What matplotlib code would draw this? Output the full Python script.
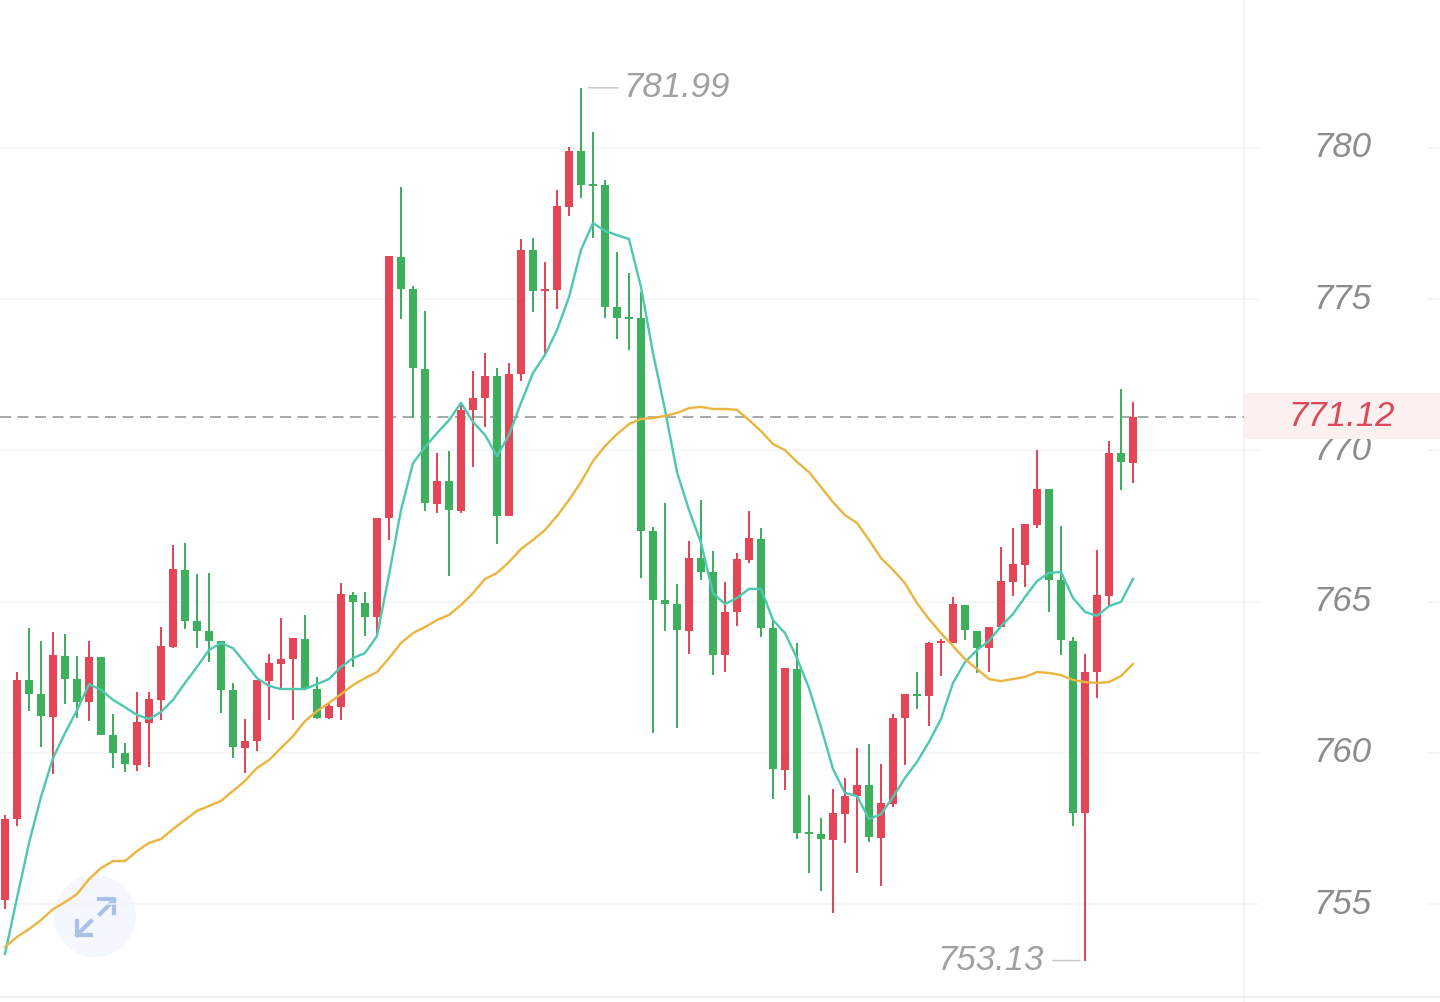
"""
K line chart with two moving averages, prices read off the screenshot
"""
import matplotlib
matplotlib.use('Agg')
import matplotlib.pyplot as plt
from matplotlib.patches import Circle, Rectangle

opens = [755.13, 757.81, 762.41, 761.94, 761.18, 763.20, 762.44, 761.68, 763.17, 760.59,
         760.00, 759.60, 760.99, 761.75, 763.50, 766.05, 764.36, 764.03, 763.70, 762.08,
         760.16, 760.39, 762.37, 762.94, 763.10, 763.76, 762.11, 761.15, 761.51, 765.22,
         764.95, 764.49, 767.76, 776.39, 775.34, 772.69, 768.23, 768.99, 768.00, 771.34,
         771.73, 772.46, 767.83, 772.53, 776.63, 775.27, 775.30, 778.05, 779.90, 778.78,
         778.78, 774.74, 774.38, 774.38, 767.33, 765.05, 764.92, 764.03, 766.44, 765.98,
         763.23, 764.66, 766.38, 767.07, 764.13, 759.43, 762.77, 757.35, 757.31, 757.12,
         757.97, 758.57, 758.93, 757.18, 758.30, 761.15, 761.91, 761.88, 763.63, 763.63,
         764.89, 764.03, 763.46, 764.16, 765.65, 766.21, 767.53, 768.72, 765.71, 763.70,
         758.01, 762.67, 765.18, 769.91, 769.58]
closes = [757.81, 762.41, 761.94, 761.22, 763.23, 762.44, 761.68, 763.17, 760.59, 760.00,
          759.63, 761.02, 761.78, 763.53, 766.08, 764.36, 764.03, 763.70, 762.08, 760.19,
          760.39, 762.41, 762.97, 763.10, 763.80, 762.14, 761.15, 761.55, 765.25, 764.99,
          764.49, 767.76, 776.43, 775.34, 772.72, 768.26, 768.99, 768.03, 771.34, 771.73,
          772.46, 767.83, 772.53, 776.63, 775.27, 775.30, 778.08, 779.90, 778.78, 778.74,
          774.74, 774.38, 774.34, 767.33, 765.05, 764.92, 764.06, 766.44, 765.98, 763.23,
          764.66, 766.41, 767.10, 764.13, 759.46, 762.80, 757.35, 757.31, 757.15, 758.01,
          758.57, 758.93, 757.21, 758.34, 761.15, 761.94, 761.88, 763.63, 763.66, 764.92,
          764.06, 763.46, 764.16, 765.68, 766.24, 767.56, 768.72, 765.71, 763.73, 758.01,
          762.67, 765.22, 769.91, 769.62, 771.12]
highs = [757.94, 762.67, 764.13, 763.70, 764.00, 763.93, 763.20, 763.70, 763.17, 761.28,
         760.32, 762.01, 762.01, 764.16, 766.87, 766.94, 765.91, 765.94, 763.70, 762.31,
         761.12, 762.41, 763.27, 764.46, 763.80, 764.56, 762.51, 761.61, 765.61, 765.32,
         765.32, 767.76, 776.43, 778.71, 775.44, 774.61, 769.91, 769.98, 771.57, 772.63,
         773.22, 772.72, 772.89, 776.99, 777.02, 776.23, 778.61, 780.03, 781.99, 780.53,
         778.94, 776.56, 775.87, 775.24, 767.47, 768.26, 765.58, 767.00, 768.36, 766.67,
         765.65, 766.61, 768.00, 767.43, 764.39, 762.80, 763.63, 758.60, 757.84, 758.80,
         759.17, 760.16, 760.29, 759.63, 761.28, 761.94, 762.67, 763.66, 763.76, 765.15,
         764.89, 764.03, 764.16, 766.80, 767.43, 767.56, 770.01, 768.72, 767.50, 763.83,
         763.27, 766.71, 770.31, 772.03, 771.60]
lows = [754.83, 757.58, 761.38, 760.19, 759.30, 761.61, 761.15, 761.05, 760.59, 759.49,
        759.36, 759.40, 759.53, 761.08, 763.46, 764.09, 763.46, 763.00, 761.32, 759.83,
        759.33, 760.06, 761.08, 762.14, 761.08, 762.14, 761.12, 761.12, 761.08, 762.84,
        763.86, 763.89, 767.04, 774.34, 771.07, 767.99, 767.93, 765.85, 767.93, 769.45,
        770.77, 766.91, 767.83, 772.29, 774.58, 773.16, 774.67, 777.75, 778.35, 777.02,
        774.38, 773.68, 773.32, 765.78, 760.65, 764.03, 760.82, 763.27, 765.71, 762.57,
        762.67, 764.19, 766.28, 763.83, 758.47, 758.77, 757.15, 756.02, 755.43, 754.70,
        757.02, 756.02, 757.05, 755.59, 758.21, 759.60, 761.45, 760.88, 762.54, 763.63,
        763.73, 762.64, 762.67, 764.16, 765.18, 765.48, 767.43, 764.66, 763.23, 757.58,
        753.13, 761.81, 764.82, 768.68, 768.92]
ma_short = [753.35, 755.20, 757.02, 758.54, 759.83, 760.65, 761.41, 762.27, 762.08, 761.75,
            761.51, 761.25, 761.12, 761.35, 761.75, 762.31, 762.84, 763.40, 763.63, 763.46,
            762.97, 762.47, 762.21, 762.11, 762.11, 762.11, 762.27, 762.44, 762.84, 763.13,
            763.30, 763.86, 765.88, 768.03, 769.58, 770.11, 770.57, 771.00, 771.57, 770.94,
            770.51, 769.81, 770.51, 771.57, 772.56, 773.16, 773.98, 775.07, 776.63, 777.52,
            777.26, 777.12, 776.99, 775.40, 773.22, 771.34, 769.28, 768.03, 766.94, 765.28,
            764.92, 765.12, 765.42, 765.42, 764.39, 763.96, 763.13, 762.14, 760.85, 759.46,
            758.67, 758.57, 757.81, 757.97, 758.54, 759.17, 759.70, 760.36, 761.12, 762.31,
            763.00, 763.40, 763.70, 764.19, 764.59, 765.15, 765.68, 765.95, 765.98, 765.12,
            764.66, 764.53, 764.85, 764.99, 765.75]
ma_long = [753.58, 753.91, 754.17, 754.47, 754.83, 755.06, 755.33, 755.82, 756.19, 756.42,
           756.42, 756.75, 757.02, 757.15, 757.48, 757.78, 758.08, 758.24, 758.41, 758.74,
           759.07, 759.50, 759.76, 760.16, 760.55, 761.05, 761.38, 761.65, 761.94, 762.24,
           762.47, 762.67, 763.13, 763.63, 763.96, 764.16, 764.39, 764.56, 764.89, 765.28,
           765.75, 765.95, 766.31, 766.74, 767.04, 767.37, 767.83, 768.36, 768.95, 769.65,
           770.14, 770.54, 770.87, 771.04, 771.07, 771.14, 771.24, 771.40, 771.44, 771.37,
           771.37, 771.34, 771.00, 770.64, 770.21, 770.01, 769.62, 769.28, 768.79, 768.29,
           767.86, 767.60, 767.04, 766.44, 766.05, 765.61, 764.95, 764.42, 763.96, 763.53,
           763.10, 762.77, 762.44, 762.37, 762.44, 762.51, 762.67, 762.64, 762.57, 762.41,
           762.34, 762.31, 762.34, 762.54, 762.94]
y_ticks = [755, 760, 765, 770, 775, 780]
last_price = 771.12
high_price = 781.99
low_price = 753.13

RED = '#e44557'
GREEN = '#3cb05c'
TEAL = '#4fc8b0'
ORANGE = '#ebb541'
GRID = '#f2f5f5'
LABEL = '#8c8c8c'
FONT = ['Liberation Sans', 'DejaVu Sans']
SIZE = 25
PX = 72 / 100  # one pixel in points
X0 = 5.0  # pixel position of the first candle
STEP = 12.0  # pixels per candle

fig = plt.figure(figsize=(14.4, 10.02), dpi=100, facecolor='white')

# background layer in pixel coordinates, for the button and the price box
bg = fig.add_axes([0, 0, 1, 1], zorder=0)
bg.set_xlim(0, 1440)
bg.set_ylim(1002, 0)
bg.axis('off')
bg.add_patch(Circle((95, 916), 41, color='#f4f7fe', lw=0))
bg.plot([100, 114], [914, 900], color='#a9c0e8', lw=3.2 * PX * 1.3)
bg.plot([99, 114, 114], [899, 899, 913], color='#a9c0e8', lw=3.2 * PX * 1.3)
bg.plot([91, 77], [921, 935], color='#a9c0e8', lw=3.2 * PX * 1.3)
bg.plot([77, 77, 91], [921, 935, 935], color='#a9c0e8', lw=3.2 * PX * 1.3)
bg.axvline(1244, color='#efefef', lw=1.5 * PX)
bg.axhline(997, color='#eeeeee', lw=2 * PX)

ax = fig.add_axes([0, 0, 1, 1], zorder=1)
ax.patch.set_alpha(0)
ax.set_xlim(-X0 / STEP, (1440 - X0) / STEP)
ax.set_ylim(751.76, 784.894)
ax.axis('off')

# grid stops around the tick label, comes back at the right edge
right_edge = ax.get_xlim()[1]
left_edge = ax.get_xlim()[0]
for tick in y_ticks:
    ax.hlines(tick, left_edge, (1259 - X0) / STEP, color=GRID, lw=1.5 * PX, zorder=1)
    ax.hlines(tick, (1427 - X0) / STEP, right_edge, color=GRID, lw=1.5 * PX, zorder=1)
    ax.text((1342 - X0) / STEP, tick, str(tick), color=LABEL, fontsize=SIZE, style='italic',
            family=FONT, ha='center', va='center', zorder=2)

ax.hlines(last_price, left_edge, (1244 - X0) / STEP, color='#aaaaaa', lw=2 * PX,
          linestyles=(0, (5.5, 3.25)), zorder=2)

for i in range(len(opens)):
    color = RED if closes[i] >= opens[i] else GREEN
    ax.vlines(i, lows[i], highs[i], color=color, lw=2 * PX, zorder=3)
    bottom = min(opens[i], closes[i])
    height = max(abs(closes[i] - opens[i]), 0.07)
    ax.bar(i, height, bottom=bottom, width=8 / STEP, color=color, lw=0, zorder=3)

ax.plot(range(len(ma_short)), ma_short, color=TEAL, lw=2.4 * PX, zorder=4)
ax.plot(range(len(ma_long)), ma_long, color=ORANGE, lw=2.4 * PX, zorder=4)

# highest and lowest price marks
high_i = highs.index(high_price)
low_i = lows.index(low_price)
ax.annotate('', xy=(high_i, high_price), xytext=(37 * PX, 0), textcoords='offset points',
            arrowprops=dict(arrowstyle='-', color='#c8c8c8', lw=1.5 * PX, shrinkA=0, shrinkB=7 * PX), zorder=3)
ax.annotate(str(high_price), xy=(high_i, high_price), xytext=(42 * PX, 0), textcoords='offset points',
            color='#a0a0a0', fontsize=SIZE, style='italic', family=FONT, ha='left', va='center', zorder=5)
ax.annotate('', xy=(low_i, low_price), xytext=(-32 * PX, 0), textcoords='offset points',
            arrowprops=dict(arrowstyle='-', color='#c8c8c8', lw=1.5 * PX, shrinkA=0, shrinkB=5 * PX), zorder=3)
ax.annotate(str(low_price), xy=(low_i, low_price), xytext=(-41 * PX, 0), textcoords='offset points',
            color='#a0a0a0', fontsize=SIZE, style='italic', family=FONT, ha='right', va='center', zorder=5)

# last price box sits over the 770 label
ax.add_patch(Rectangle(((1245 - X0) / STEP, 770.38), 195 / STEP, 1.52, color='#fdf1f0', lw=0, zorder=6))
ax.text((1342 - X0) / STEP, last_price, str(last_price), color='#d9495a', fontsize=SIZE, style='italic',
        family=FONT, ha='center', va='center', zorder=7)

fig.savefig('out.png', dpi=100)
